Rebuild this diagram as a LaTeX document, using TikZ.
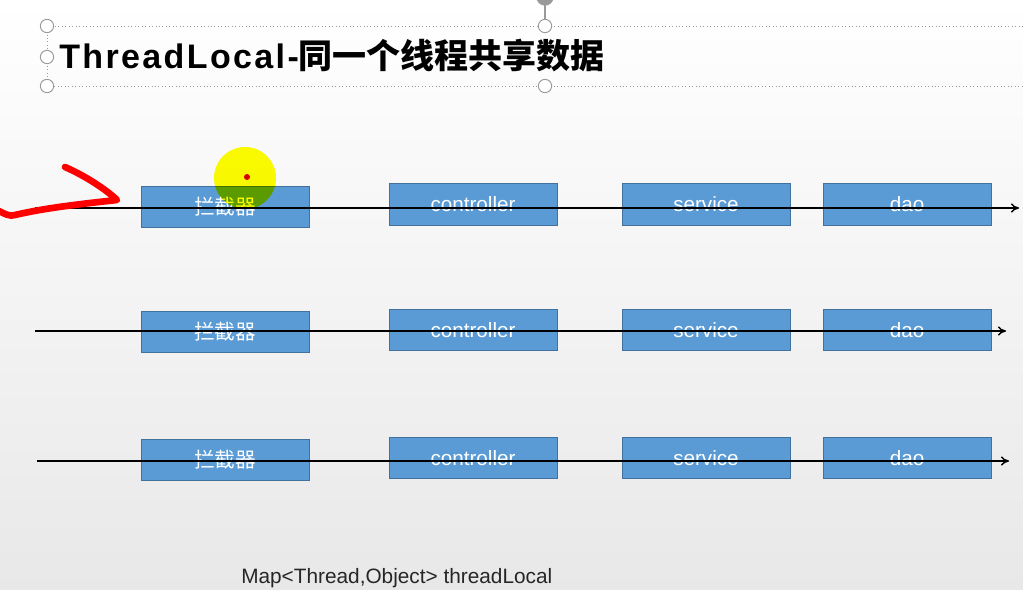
\documentclass[tikz,border=0pt]{standalone}
\usepackage{fontspec}
\setmainfont{Liberation Sans}
\newfontfamily\cjk{Noto Sans CJK SC}
\newfontfamily\titlelat[LetterSpace=7]{Liberation Sans}
\usetikzlibrary{arrows.meta}
\definecolor{boxfill}{HTML}{5B9BD5}
\definecolor{boxline}{HTML}{41719C}
\definecolor{handle}{HTML}{9A9A9A}
\definecolor{hilite}{HTML}{FFFF00}
\tikzset{
  px/.style={x=0.75pt,y=-0.75pt},
  layer/.style={draw=boxline,line width=0.6pt,fill=boxfill,minimum width=126pt,minimum height=31pt,inner sep=0pt,text=white,font=\fontsize{15.5pt}{16pt}\selectfont},
  flow/.style={draw=black,line width=1.1pt,-{To[length=6pt,width=7pt]}},
  hdl/.style={circle,draw=handle,fill=white,line width=0.7pt,minimum size=10pt,inner sep=0pt},
}
\begin{document}
\begin{tikzpicture}[px]
\useasboundingbox (0,0) rectangle (1023,589);
\clip (0,0) rectangle (1023,589);
\shade[top color=white,bottom color=black!9] (0,0) rectangle (1023,589);
% title placeholder frame
\draw[handle,dotted,line width=0.6pt] (1023,26) -- (47,26) -- (47,86) -- (1023,86);
\draw[handle,line width=0.8pt] (545,0) -- (545,26);
\node[circle,fill=handle,minimum size=13pt,inner sep=0pt] (rot) at (545,-3) {};
\node[hdl] (h1) at (47,26) {};
\node[hdl] (h2) at (47,57) {};
\node[hdl] (h3) at (47,86) {};
\node[hdl] (h4) at (545,26) {};
\node[hdl] (h5) at (545,86) {};
\node[anchor=west,inner sep=0pt] (title) at (59,56) {\fontsize{25.5pt}{28pt}\selectfont\bfseries\titlelat ThreadLocal-\cjk 同一个线程共享数据};
% rows
\foreach \r/\ya/\yb in {1/207/204.5, 2/332/330, 3/460/458}{
  \node[layer] (i\r) at (225,\ya) {\cjk 拦截器};
  \node[layer] (c\r) at (473,\yb) {controller};
  \node[layer] (s\r) at (706,\yb) {service};
  \node[layer] (d\r) at (907,\yb) {dao};
}
\coordinate (a1) at (35,208);
\coordinate (b1) at (1019,208);
\coordinate (a2) at (35,331);
\coordinate (b2) at (1006,331);
\coordinate (a3) at (37,461);
\coordinate (b3) at (1009,461);
\draw[flow] (a1) -- (b1);
\draw[flow] (a2) -- (b2);
\draw[flow] (a3) -- (b3);
% pointer highlight
\begin{scope}[blend mode=multiply]
\fill[hilite] (245,178) circle (31);
\end{scope}
\fill[red!85!black] (247,177) circle (3);
% red annotation
\draw[red,line width=5pt,line cap=round,line join=round]
  (-5,209) .. controls (5,214) and (10,217) .. (15,215)
  .. controls (45,208) and (80,204) .. (117,200)
  .. controls (110,193) and (90,178) .. (65,167);
\node[anchor=west,inner sep=0pt,text=black!85] (map) at (241,578) {\fontsize{15.6pt}{17pt}\selectfont Map<Thread,Object> threadLocal};
\end{tikzpicture}
\end{document}
